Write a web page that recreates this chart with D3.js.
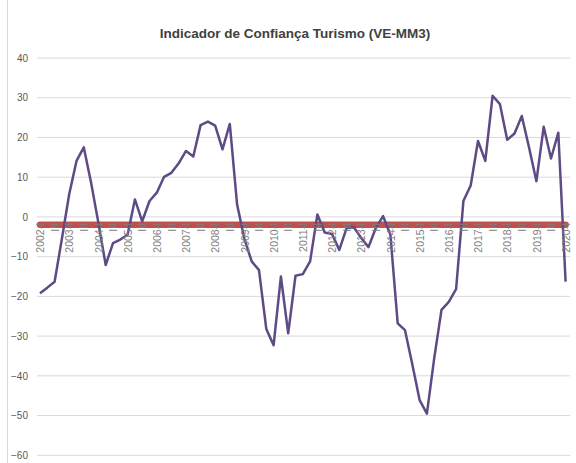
<!DOCTYPE html>
<html lang="pt">
    <head>
        <meta charset="utf-8">
        <title>Indicador de Confiança Turismo</title>
        <script type="text/javascript" src="https://cdn.jsdelivr.net/npm/d3@7"></script>
        <style>
            body { margin: 0; background: #fff; }
        </style>
    </head>
    <body>
        <div id="chart"></div>
        <script type="text/javascript">
            // trimestres 2002-I ate 2020-I
            var categorias = [
                "2002-I","II","III","IV","2003-I","II","III","IV","2004-I","II","III","IV",
                "2005-I","II","III","IV","2006-I","II","III","IV","2007-I","II","III","IV",
                "2008-I","II","III","IV","2009-I","II","III","IV","2010-I","II","III","IV",
                "2011-I","II","III","IV","2012-I","II","III","IV","2013-I","II","III","IV",
                "2014-I","II","III","IV","2015-I","II","III","IV","2016-I","II","III","IV",
                "2017-I","II","III","IV","2018-I","II","III","IV","2019-I","II","III","IV",
                "2020-I"
            ]

            // VE-MM3
            var confianca = [
                -19.2, -17.8, -16.3, -5.5, 5.7, 14.1, 17.5, 8.6, -1.5, -12.1, -6.6, -5.7,
                -4.5, 4.4, -1.1, 4.0, 6.1, 10.1, 11.1, 13.5, 16.6, 15.2, 23.1, 24.0,
                23.0, 17.0, 23.4, 3.1, -5.5, -11.2, -13.4, -28.2, -32.3, -15.0, -29.3, -14.8,
                -14.4, -11.2, 0.6, -3.9, -4.3, -8.3, -2.8, -2.6, -5.3, -7.6, -2.8, 0.2,
                -4.5, -26.8, -28.5, -37.1, -46.1, -49.5, -35.6, -23.4, -21.4, -18.2, 4.0, 7.9,
                19.1, 14.1, 30.5, 28.4, 19.4, 21.0, 25.4, 17.4, 9.0, 22.7, 14.7, 21.2,
                -16.3
            ]

            // linha de referencia (vermelha)
            var referencia = -2

            var yTicks = [-60, -50, -40, -30, -20, -10, 0, 10, 20, 30, 40]

            var w = 576
            var h = 463

            var svg = d3.select("#chart")
                .append("svg")
                .attr("width", w)
                .attr("height", h)
                .style("font-family", "'Liberation Sans', Arial, sans-serif")

            var plotLeft = 37
            var plotRight = 570

            var xScale = d3.scalePoint()
                .domain(d3.range(categorias.length))
                .range([40, 565.6])

            var yScale = d3.scaleLinear()
                .domain([-60, 40])
                .range([455.3, 58])

            // borda esquerda da area do grafico
            svg.append("line")
                .attr("x1", 7.5).attr("x2", 7.5)
                .attr("y1", 0).attr("y2", h)
                .attr("stroke", "#d9d9d9")

            // titulo
            svg.append("text")
                .text("Indicador de Confiança Turismo (VE-MM3)")
                .attr("x", 295)
                .attr("y", 38)
                .attr("text-anchor", "middle")
                .attr("font-size", "13.5px")
                .attr("font-weight", "bold")
                .attr("fill", "#404040")

            // grelha
            svg.selectAll("line.grid")
                .data(yTicks)
                .enter()
                .append("line")
                .attr("class", "grid")
                .attr("x1", plotLeft)
                .attr("x2", plotRight)
                .attr("y1", function(d) { return yScale(d) })
                .attr("y2", function(d) { return yScale(d) })
                .attr("stroke", "#d9d9d9")
                .attr("stroke-width", 1)

            // eixo y
            var yAxis = d3.axisLeft(yScale)
                .tickValues(yTicks)
                .tickSize(0)
                .tickPadding(9)

            svg.append("g")
                .attr("transform", "translate(" + plotLeft + ",0)")
                .call(yAxis)
                .call(function(g) { g.select(".domain").remove() })
                .selectAll("text")
                .attr("font-size", "10px")
                .attr("fill", "#595959")
                .attr("font-family", "'Liberation Sans', Arial, sans-serif")

            // linha vermelha
            var first = 0
            var last = categorias.length - 1
            svg.append("line")
                .attr("x1", xScale(first))
                .attr("x2", xScale(last))
                .attr("y1", yScale(referencia))
                .attr("y2", yScale(referencia))
                .attr("stroke", "#c0504d")
                .attr("stroke-width", 6.5)
                .attr("stroke-linecap", "round")

            // serie principal
            var line = d3.line()
                .x(function(d, i) { return xScale(i) })
                .y(function(d) { return yScale(d) })

            svg.append("path")
                .datum(confianca)
                .attr("d", line)
                .attr("fill", "none")
                .attr("stroke", "#5e4a85")
                .attr("stroke-width", 2.5)
                .attr("stroke-linejoin", "round")

            // eixo x (rotulos de 2 em 2 trimestres)
            var xAxis = d3.axisBottom(xScale)
                .tickValues(d3.range(0, categorias.length, 2))
                .tickFormat(function(i) { return categorias[i] })
                .tickSize(0)

            svg.append("g")
                .attr("transform", "translate(0," + yScale(0) + ")")
                .call(xAxis)
                .call(function(g) { g.select(".domain").remove() })
                .selectAll("text")
                .attr("transform", "rotate(-90)")
                .attr("x", -6)
                .attr("y", 0)
                .attr("dy", "0.35em")
                .style("text-anchor", "end")
                .attr("font-size", "10.5px")
                .attr("fill", "#7f7f7f")
                .attr("font-family", "'Liberation Sans', Arial, sans-serif")
        </script>
    </body>
</html>
